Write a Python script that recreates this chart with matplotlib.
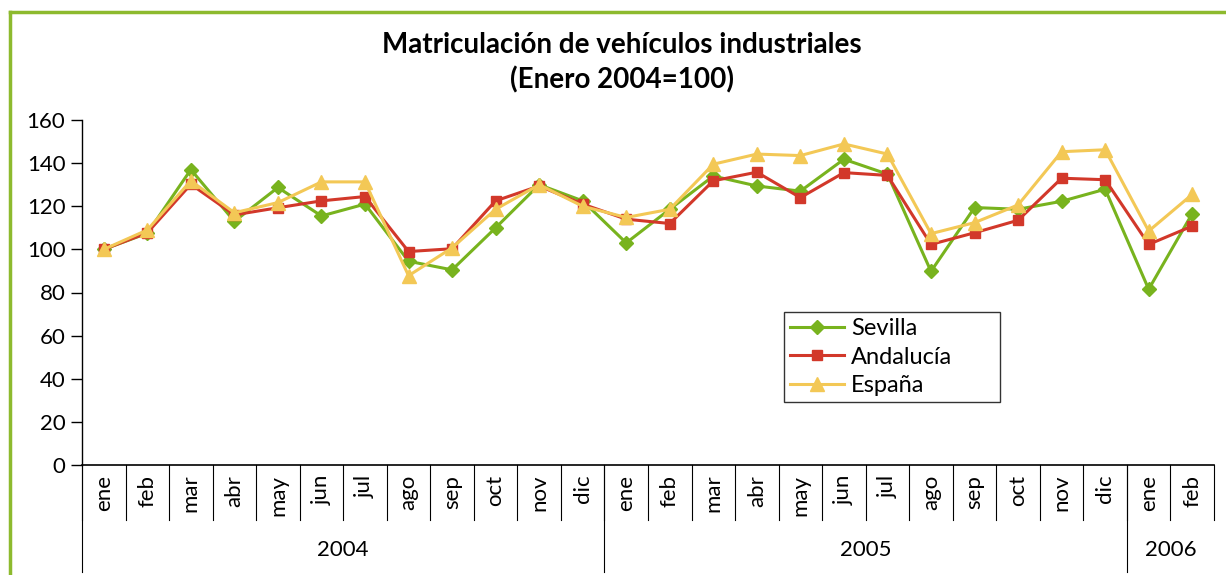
import numpy as np
import matplotlib
matplotlib.use("Agg")
from matplotlib import pyplot as plt
from matplotlib.lines import Line2D
import matplotlib.transforms as mtransforms

plt.rcParams.update({
    "font.family": ["Lato", "DejaVu Sans"],
    "font.size": 15,
})

# datos (Enero 2004 = 100)
meses = ["ene", "feb", "mar", "abr", "may", "jun", "jul", "ago", "sep", "oct", "nov", "dic",
         "ene", "feb", "mar", "abr", "may", "jun", "jul", "ago", "sep", "oct", "nov", "dic",
         "ene", "feb"]
anios = ["2004", "2005", "2006"]
meses_por_anio = [12, 12, 2]

sevilla = [100, 107.5, 137, 113, 128.7, 115.5, 121, 94.5, 90.5, 110, 130, 122.5,
           103, 118.6, 134, 129.4, 127, 141.8, 134.9, 89.8, 119.4, 118.6, 122.3, 127.9,
           81.5, 116.6]
andalucia = [100, 107.7, 130.2, 116, 119.3, 122.5, 124.5, 99, 100.3, 122.5, 129.4, 121,
             114, 112, 131.8, 135.8, 124, 135.6, 134.3, 102.3, 107.7, 113.5, 133, 132.3,
             102.3, 110.8]
espana = [100, 109, 131.8, 117, 121.7, 131.3, 131.3, 87.8, 100.7, 118.6, 130, 120,
          114.8, 118.6, 139.5, 144.2, 143.5, 148.9, 144.2, 107.3, 112.4, 120.6, 145.3, 146.2,
          108.5, 125.5]

c_sev = "#78B31E"
c_and = "#D2382A"
c_esp = "#F3C856"

fig = plt.figure(figsize=(12.26, 5.75), dpi=100)
ax = fig.add_axes([82/1226, 1-465/575, 1132/1226, 345/575])

x = np.arange(len(meses))
ax.plot(x, sevilla, color=c_sev, lw=2.2, marker="D", ms=7.5, label="Sevilla", zorder=3)
ax.plot(x, andalucia, color=c_and, lw=2.2, marker="s", ms=7.5, label="Andalucía", zorder=3)
ax.plot(x, espana, color=c_esp, lw=2.2, marker="^", ms=10.5, label="España", zorder=3)

ax.set_xlim(-0.5, len(meses) - 0.5)
ax.set_ylim(0, 160)
ax.set_yticks(np.arange(0, 161, 20))
ax.tick_params(axis="y", length=8, width=1, pad=4, labelsize=16)
ax.set_xticks(x)
ax.set_xticklabels(meses, rotation=90, fontsize=16)
ax.tick_params(axis="x", length=0, pad=7)
for lbl in ax.get_xticklabels():
    lbl.set_verticalalignment("top")

ax.spines["top"].set_visible(False)
ax.spines["right"].set_visible(False)
ax.spines["left"].set_linewidth(1)
ax.spines["bottom"].set_linewidth(1.2)

# separadores de la tabla de categorías
trans = mtransforms.blended_transform_factory(ax.transData, ax.transAxes)
row1 = -(520 - 465) / 345
row2 = -(572 - 465) / 345
limites_anio = np.cumsum([0] + meses_por_anio) - 0.5
for b in np.arange(len(meses) + 1) - 0.5:
    ax.plot([b, b], [0, row1], transform=trans, color="black", lw=0.8, clip_on=False)
for b in limites_anio[:-1]:
    ax.plot([b, b], [0, row2], transform=trans, color="black", lw=0.8, clip_on=False)

ini = 0
for anio, n in zip(anios, meses_por_anio):
    ax.text(ini + (n - 1) / 2, -(550 - 465) / 345, anio, transform=trans,
            ha="center", va="center", fontsize=16)
    ini += n

fig.text(622/1226, 1-45/575, "Matriculación de vehículos industriales",
         ha="center", va="center", fontsize=20, fontweight="bold")
fig.text(622/1226, 1-80/575, "(Enero 2004=100)",
         ha="center", va="center", fontsize=20, fontweight="bold")

leg = ax.legend(loc="upper left", mode="expand",
                bbox_to_anchor=(784/1226, 1-407/575, 216/1226, 95/575),
                bbox_transform=fig.transFigure, frameon=True, fancybox=False,
                fontsize=17, handlelength=2.3, borderpad=0.25, labelspacing=0.33,
                handletextpad=0.3, borderaxespad=0)
leg.get_frame().set_edgecolor("black")
leg.get_frame().set_linewidth(1)

# marco verde
fig.add_artist(Line2D([10/1226, 10/1226], [0, 1-12/575], color="#8DBA2E", lw=2.5))
fig.add_artist(Line2D([10/1226, 1], [1-12/575, 1-12/575], color="#8DBA2E", lw=2.5))

fig.savefig("out.png", dpi=100)
